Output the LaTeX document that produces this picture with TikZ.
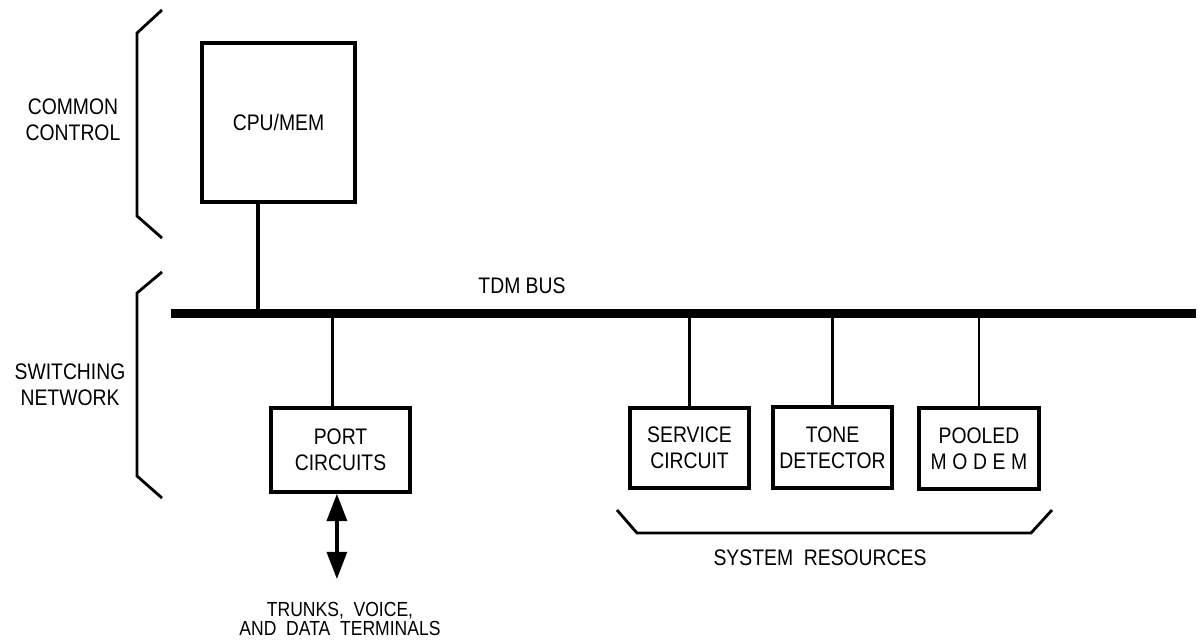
\documentclass[tikz,border=0pt]{standalone}
\usepackage{fontspec}
\setmainfont{Liberation Sans}[FakeStretch=0.86]
\usetikzlibrary{arrows.meta}

\begin{document}
\begin{tikzpicture}[
  x=0.025cm, y=-0.025cm,
  font=\fontsize{16}{18.5}\selectfont,
  unit/.style={draw, line width=2.6pt, align=center, inner sep=0pt},
  tap/.style={line width=2pt},
  brace/.style={line width=2pt},
  tag/.style={align=center},
  bus/.style={line width=6.2pt},
  io/.style={line width=2.4pt, {Triangle[width=0.5cm, length=0.68cm]}-{Triangle[width=0.5cm, length=0.68cm]}}
]
\useasboundingbox (0,0) rectangle (1200,640);

% common control
\node[unit, minimum width=3.825cm, minimum height=3.975cm] (cpu) at (278.5,122.5) {CPU/MEM};
\draw[brace] (162,10) -- (137,33) -- (137,216) -- (162,238);
\node[tag] (cc) at (73,120) {COMMON\\CONTROL};

% bus
\coordinate (busL) at (171,313.5);
\coordinate (busR) at (1196,313.5);
\draw[bus] (busL) -- (busR);
\node[tag] (tdm) at (522,286) {TDM BUS};
\coordinate (cpuT) at ([xshift=-0.51cm]cpu.south);
\draw[tap, line width=2.8pt] (cpuT) -- (cpuT |- busL);

% switching network
\draw[brace] (162,272) -- (137,293) -- (137,476) -- (162,498);
\node[tag] (sw) at (70,385) {SWITCHING\\NETWORK};

\node[unit, minimum width=3.475cm, minimum height=2.1cm] (port) at (340.5,450) {PORT\\CIRCUITS};
\coordinate (portT) at ([xshift=-0.19cm]port.north);
\draw[tap] (portT) -- (portT |- busL);
\coordinate (portB) at ([xshift=-0.09cm]port.south);
\coordinate (term) at (portB |- 0,579);
\draw[io] (portB) -- (term);
\node[tag, font=\fontsize{14.5}{13.5}\selectfont] (lines) at (340,619) {TRUNKS,\ \ VOICE,\\AND\ \ DATA\ \ TERMINALS};

% system resources
\node[unit, minimum width=2.975cm, minimum height=2cm] (svc) at (689.5,448) {SERVICE\\CIRCUIT};
\node[unit, minimum width=2.975cm, minimum height=2.025cm] (tone) at (832.5,447.5) {TONE\\DETECTOR};
\node[unit, minimum width=3cm, minimum height=2.025cm] (modem) at (979,448.5) {POOLED\\{\addfontfeature{LetterSpace=25}MODEM}};
\foreach \n in {svc,tone,modem}
  \draw[tap] (\n.north) -- (\n.north |- busL);
\draw[brace] (617,510) -- (637,533) -- (1031,533) -- (1052,510);
\node[tag] (res) at (820,558) {SYSTEM\ \ RESOURCES};

\end{tikzpicture}
\end{document}
